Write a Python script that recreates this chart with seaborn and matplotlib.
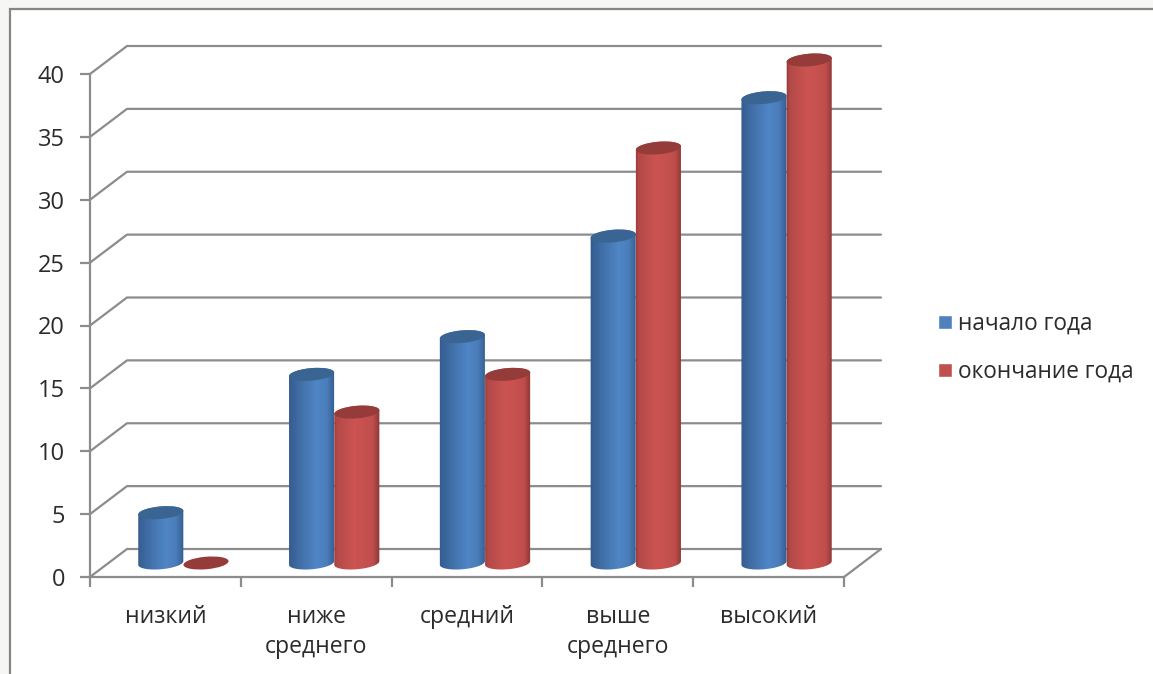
import numpy as np
import pandas as pd
import seaborn as sns
import matplotlib.pyplot as plt
from matplotlib.colors import LinearSegmentedColormap
from matplotlib.lines import Line2D
from matplotlib.patches import Ellipse, Rectangle
from matplotlib.path import Path
from matplotlib.transforms import Affine2D, IdentityTransform

# Values
categories = ["низкий", "ниже\nсреднего", "средний", "выше\nсреднего", "высокий"]
series_names = ["начало года", "окончание года"]
start_of_year = [4, 15, 18, 26, 37]
end_of_year = [0, 12, 15, 33, 40]
y_ticks = [0, 5, 10, 15, 20, 25, 30, 35, 40]

colors = ["#4f81bd", "#c0504d"]
top_colors = ["#3a6592", "#953c3a"]
edge_shades = [
    [(0, "#33598c"), (0.3, "#4272ab"), (0.6, "#5086c6"), (0.8, "#4a7db9"), (1, "#2f5586")],
    [(0, "#8f3836"), (0.1, "#b34a48"), (0.45, "#cc5452"), (0.82, "#c04e4c"), (1, "#7c302e")],
]
axis_gray = "#8c8c8c"
text_color = "#2b2b2b"

sns.set_theme(style="white")
plt.rcParams["font.family"] = ["Open Sans", "DejaVu Sans"]

W, H = 1153, 674
fig = plt.figure(figsize=(W / 100, H / 100), dpi=100, facecolor="#f6f6f4")

# Outer chart frame, cut off by the right and bottom edges of the screenshot
fig.add_artist(Rectangle((10, -10), W + 20, H + 10 - 9, transform=IdentityTransform(),
                         facecolor="white", edgecolor="#858585", linewidth=1.6, zorder=-1))

ax = fig.add_axes([90 / W, (H - 577) / H, 754 / W, 503 / H])
ax.patch.set_alpha(0)

df = pd.DataFrame({
    "category": categories * 2,
    "series": np.repeat(series_names, len(categories)),
    "value": start_of_year + end_of_year,
})
sns.barplot(data=df, x="category", y="value", hue="series", order=categories,
            hue_order=series_names, palette=colors, width=0.6, saturation=1,
            errorbar=None, ax=ax, zorder=3)

ax.set_xlim(-0.5, len(categories) - 0.5)
ax.set_ylim(0, 40)
ax.set_xlabel("")
ax.set_ylabel("")
ax.set_yticks(y_ticks)
sns.despine(ax=ax)
for side in ["left", "bottom"]:
    ax.spines[side].set_color(axis_gray)
    ax.spines[side].set_linewidth(1.6)

ax.set_xticks(np.arange(-0.5, len(categories)), minor=True)
ax.tick_params(axis="x", which="major", length=0, pad=20, labelsize=16.6, labelcolor=text_color)
ax.tick_params(axis="x", which="minor", bottom=True, length=7, width=1.6, color=axis_gray)
ax.tick_params(axis="y", left=True, length=7, width=1.6, color=axis_gray, pad=11,
               labelsize=17, labelcolor=text_color)
for label in ax.get_xticklabels():
    label.set_linespacing(1.37)
    label.set_verticalalignment("top")

# Back wall and floor of the fake 3D box
depth_x, depth_y = 37, 28
x_left, x_right = -0.5, len(categories) - 0.5
for v in y_ticks:
    (fx0, fy), (fx1, _) = ax.transData.transform([(x_left, v), (x_right, v)])
    ax.add_line(Line2D([fx0, fx0 + depth_x, fx1 + depth_x], [fy, fy + depth_y, fy + depth_y],
                       transform=IdentityTransform(), color=axis_gray, linewidth=1.6,
                       zorder=1, clip_on=False))
(fx1, fy) = ax.transData.transform((x_right, 0))
ax.add_line(Line2D([fx1, fx1 + depth_x], [fy, fy + depth_y], transform=IdentityTransform(),
                   color=axis_gray, linewidth=1.6, zorder=1, clip_on=False))

# Turn the flat seaborn bars into cylinders
shift_x, shift_y = 18, 14
ell_h, tilt = 12.5, np.radians(5)
order = 3.0
for s, container in enumerate(ax.containers):
    cmap = LinearSegmentedColormap.from_list("shade", edge_shades[s])
    for bar in container:
        bar.set_transform(ax.transData + Affine2D().translate(shift_x, shift_y))
        bar.set_clip_on(False)
        bar.set_zorder(order)

        (x0, y0) = ax.transData.transform((bar.get_x(), 0)) + (shift_x, shift_y)
        (x1, y1) = ax.transData.transform((bar.get_x() + bar.get_width(), bar.get_height())) + (shift_x, shift_y)
        cx, a, b = (x0 + x1) / 2, (x1 - x0) / 2, ell_h / 2

        def on_ellipse(theta, cy):
            ex, ey = a * np.cos(theta), b * np.sin(theta)
            return np.column_stack([cx + ex * np.cos(tilt) - ey * np.sin(tilt),
                                    cy + ex * np.sin(tilt) + ey * np.cos(tilt)])

        if bar.get_height() > 0:
            # body clipped to the rounded lower edge
            lower = on_ellipse(np.linspace(np.pi, 2 * np.pi, 40), y0)
            upper = on_ellipse(np.linspace(0, np.pi, 40), y1)
            verts = np.vstack([lower, upper, lower[:1]])
            im = ax.imshow(np.linspace(0, 1, 128)[None, :], extent=(x0 - 2, x1 + 2, y0 - 12, y1 + 12),
                           transform=IdentityTransform(), aspect="auto", cmap=cmap,
                           interpolation="bilinear", zorder=order + 0.1)
            im.set_clip_box(fig.bbox)
            im.set_clip_path(Path(verts), IdentityTransform())
            bar.set_alpha(0)

        ax.add_patch(Ellipse((cx, y1), 2 * a, 2 * b, angle=np.degrees(tilt),
                             transform=IdentityTransform(), facecolor=top_colors[s],
                             edgecolor="none", zorder=order + 0.2, clip_on=False))
        order += 1

ax.set_xlim(-0.5, len(categories) - 0.5)
ax.set_ylim(0, 40)

# Legend on the right
handles, labels = ax.get_legend_handles_labels()
ax.legend(handles, labels, loc="center left", bbox_to_anchor=(938 / W, (H - 348) / H),
          bbox_transform=fig.transFigure, frameon=False, fontsize=16.3, labelcolor=text_color,
          handlelength=0.62, handleheight=0.62, handletextpad=0.27, labelspacing=1.05,
          borderpad=0, borderaxespad=0)

plt.savefig("out.png", dpi=100, facecolor=fig.get_facecolor())
